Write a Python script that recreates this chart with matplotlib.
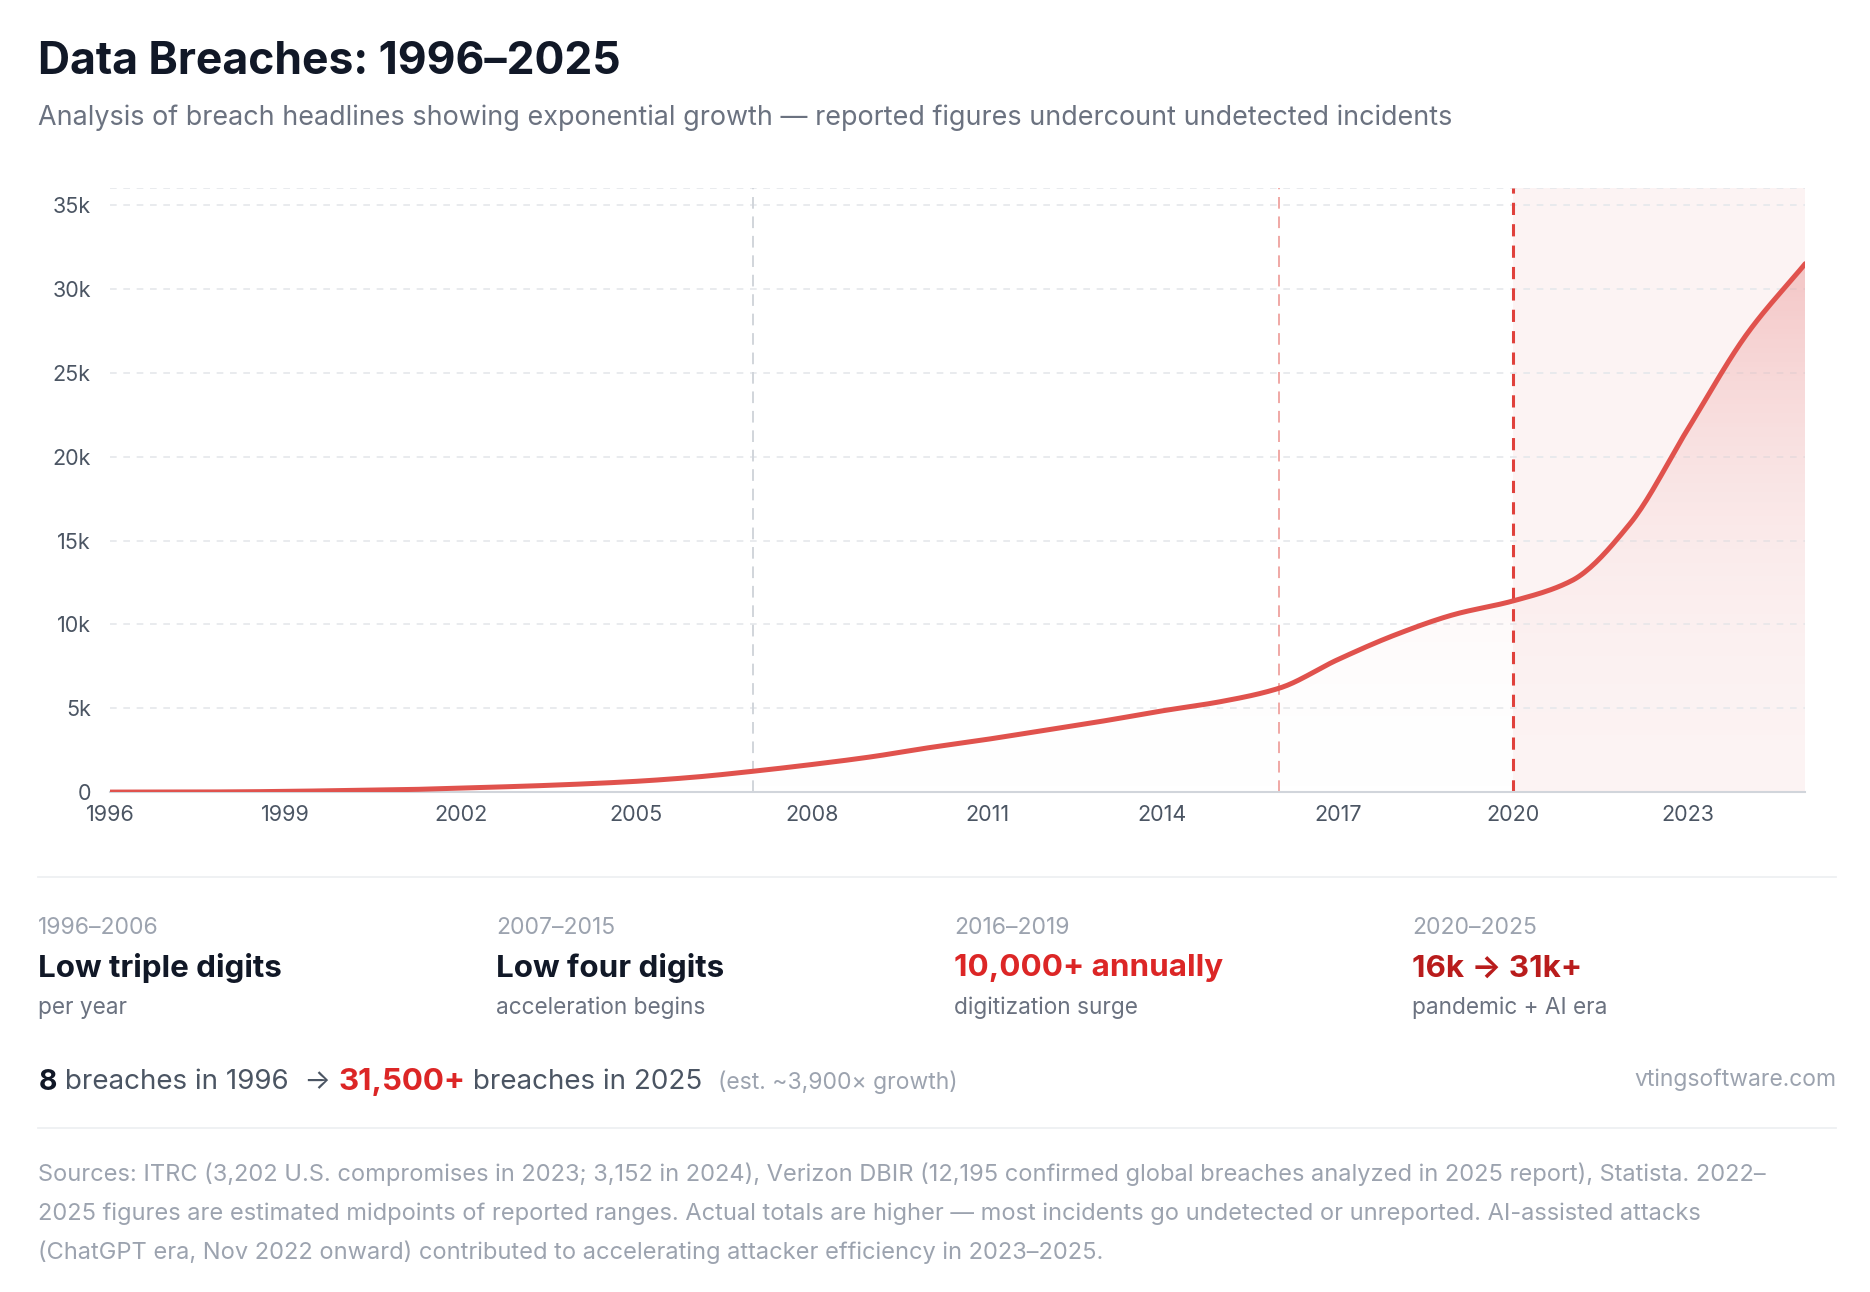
import numpy as np
import matplotlib.pyplot as plt
from matplotlib.colors import LinearSegmentedColormap

years = list(range(1996, 2026))
breaches = [8, 10, 20, 50, 100, 150, 250, 350, 480, 650, 900, 1250, 1650, 2100, 2650,
            3150, 3700, 4250, 4850, 5400, 6200, 7900, 9400, 10600, 11400, 12600, 16000,
            21700, 27300, 31500]
xticks = [1996, 1999, 2002, 2005, 2008, 2011, 2014, 2017, 2020, 2023]
yticks = [0, 5000, 10000, 15000, 20000, 25000, 30000, 35000]
ylabels = ['0', '5k', '10k', '15k', '20k', '25k', '30k', '35k']
eras = ['1996–2006', '2007–2015', '2016–2019', '2020–2025']
heads = ['Low triple digits', 'Low four digits', '10,000+ annually', '16k → 31k+']
subs = ['per year', 'acceleration begins', 'digitization surge', 'pandemic + AI era']
head_colors = ['#111827', '#111827', '#dc2626', '#b91c1c']

RED = '#e0524d'
DARK = '#111827'
GRAY = '#6b7280'
LIGHT = '#9ca3af'
plt.rcParams['font.family'] = ['Inter', 'DejaVu Sans']

W, H = 1560, 1078
fig = plt.figure(figsize=(18.7, 12.92), dpi=100)

def fx(x): return x / W
def fy(y): return 1 - y / H

ax = fig.add_axes([fx(92), fy(661), fx(1506) - fx(92), fy(157) - fy(661)])
ax.set_xlim(1996, 2025)
ax.set_ylim(0, 36000)

# smooth curve through the points (monotone cubic)
xs = np.linspace(1996, 2025, 600)
xa = np.array(years, float); ya = np.array(breaches, float)
h = np.diff(xa); d = np.diff(ya) / h
m = np.zeros_like(ya); m[0] = d[0]; m[-1] = d[-1]
for i in range(1, len(ya) - 1):
    m[i] = 0 if d[i-1] * d[i] <= 0 else 2 / (1 / d[i-1] + 1 / d[i])
idx = np.clip(np.searchsorted(xa, xs) - 1, 0, len(h) - 1)
t = (xs - xa[idx]) / h[idx]
ys = ((2*t**3 - 3*t**2 + 1) * ya[idx] + (t**3 - 2*t**2 + t) * h[idx] * m[idx]
      + (-2*t**3 + 3*t**2) * ya[idx+1] + (t**3 - t**2) * h[idx] * m[idx+1])

ax.axvspan(2020, 2025, color='#fbeeee', alpha=0.7, zorder=0, lw=0)
cmap = LinearSegmentedColormap.from_list('g', [(1, 1, 1, 0), (0.92, 0.55, 0.55, 0.45)])
grad = np.linspace(0, 1, 256).reshape(-1, 1)
im = ax.imshow(grad, extent=[1996, 2025, 0, 32000], origin='lower', aspect='auto',
               cmap=cmap, zorder=1)
poly = ax.fill_between(xs, 0, ys, color='none', lw=0)
im.set_clip_path(poly.get_paths()[0], transform=ax.transData)

for y in yticks + [36000]:
    ax.axhline(y, color='#e5e7eb', lw=1.2, ls=(0, (4, 4)), zorder=0.5)
ax.axvline(2007, color='#d1d5db', lw=1.4, ls=(0, (6, 4)), zorder=2)
ax.axvline(2016, color='#f0a8a5', lw=1.4, ls=(0, (6, 4)), zorder=2)
ax.axvline(2020, color='#e0413c', lw=2.2, ls=(0, (4, 3)), zorder=2)
ax.plot(xs, ys, color=RED, lw=3.6, zorder=3, solid_capstyle='round')

for s in ['top', 'right', 'left']:
    ax.spines[s].set_visible(False)
ax.spines['bottom'].set_color('#d1d5db')
ax.spines['bottom'].set_linewidth(1.5)
ax.set_xticks(xticks)
ax.set_yticks(yticks, ylabels)
ax.tick_params(length=0, labelsize=15.5, labelcolor='#4b5563', pad=9)
ax.tick_params(axis='y', pad=14)
ax.set_facecolor('none')

fig.text(fx(32), fy(52), 'Data Breaches: 1996–2025', fontsize=32, fontweight='bold',
         color=DARK, va='center')
fig.text(fx(32), fy(98), 'Analysis of breach headlines showing exponential growth — reported '
         'figures undercount undetected incidents', fontsize=19.4, color=GRAY, va='center')

for yy in (732, 941):
    fig.add_artist(plt.Line2D([fx(32), fx(1532)], [fy(yy), fy(yy)], color='#eef0f2', lw=1.3))

for i in range(4):
    x0 = fx(32 + 382 * i)
    fig.text(x0, fy(774), eras[i], fontsize=16.5, color=LIGHT, va='center')
    fig.text(x0, fy(808), heads[i], fontsize=22.6, fontweight='bold', color=head_colors[i], va='center')
    fig.text(x0, fy(841), subs[i], fontsize=16.3, color=GRAY, va='center')

fig.canvas.draw()
r = fig.canvas.get_renderer()
x = fx(32)
parts = [('8', DARK, 20.5, 'bold'), (' breaches in 1996  → ', '#4b5563', 20, 'normal'),
         ('31,500+', '#dc2626', 22.5, 'bold'), (' breaches in 2025  ', '#4b5563', 20, 'normal'),
         ('(est. ~3,900× growth)', LIGHT, 16.5, 'normal')]
for s, c, fs, fw in parts:
    tt = fig.text(x, fy(903), s, fontsize=fs, color=c, fontweight=fw, va='center')
    x += tt.get_window_extent(r).width / fig.bbox.width
fig.text(fx(1532), fy(901), 'vtingsoftware.com', fontsize=16.5, color=LIGHT, va='center', ha='right')

src = ['Sources: ITRC (3,202 U.S. compromises in 2023; 3,152 in 2024), Verizon DBIR (12,195 confirmed global breaches analyzed in 2025 report), Statista. 2022–',
       '2025 figures are estimated midpoints of reported ranges. Actual totals are higher — most incidents go undetected or unreported. AI-assisted attacks',
       '(ChatGPT era, Nov 2022 onward) contributed to accelerating attacker efficiency in 2023–2025.']
for i, s in enumerate(src):
    fig.text(fx(32), fy(980 + 32.5 * i), s, fontsize=17, color=LIGHT, va='center')

fig.savefig('out.png', dpi=100)
